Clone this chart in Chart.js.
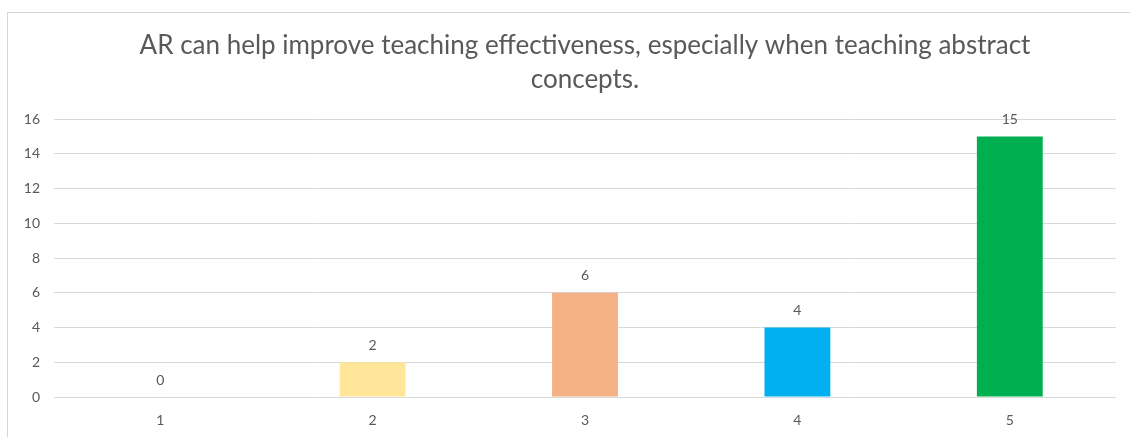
<!DOCTYPE html>
<html>
<head>
<meta charset="utf-8">
<script src="https://cdn.jsdelivr.net/npm/chart.js@4/dist/chart.umd.min.js"></script>
<style>
  body { margin: 0; background: #fff; }
  #wrap { position: relative; width: 1130px; height: 437px; overflow: hidden; }
  #frame { position: absolute; left: 7px; top: 12px; width: 1200px; height: 500px;
           border-left: 1px solid #d6d6d6; border-top: 1px solid #d6d6d6; }
  #myChart { position: absolute; left: 0; top: 0; }
</style>
</head>
<body>
<div id="wrap">
  <div id="frame"></div>
  <canvas id="myChart" width="1130" height="437"></canvas>
</div>
<script>
var categories = ["1", "2", "3", "4", "5"];
var counts = [0, 2, 6, 4, 15];
var barColors = ["#5B9BD5", "#FFE699", "#F4B183", "#00B0F0", "#00B050"];
var titleLines = ["AR can help improve teaching effectiveness, especially when teaching abstract", "concepts."];

var FONT = "Lato, 'Open Sans', sans-serif";
var GREY = "#595959";

// value labels over each bar
var valueLabels = {
  id: "valueLabels",
  afterDatasetsDraw: function(chart) {
    var ctx = chart.ctx;
    var meta = chart.getDatasetMeta(0);
    ctx.save();
    ctx.font = "14px " + FONT;
    ctx.fillStyle = GREY;
    ctx.textAlign = "center";
    ctx.textBaseline = "middle";
    meta.data.forEach(function(bar, i) {
      ctx.fillText(counts[i], bar.x, bar.y - 17);
    });
    ctx.restore();
  }
};

new Chart("myChart", {
  type: "bar",
  data: {
    labels: categories,
    datasets: [{
      data: counts,
      backgroundColor: barColors,
      categoryPercentage: 1,
      barPercentage: 0.31
    }]
  },
  options: {
    responsive: false,
    animation: false,
    layout: { padding: { left: 8, right: 14, top: 12, bottom: 10 } },
    plugins: {
      legend: { display: false },
      tooltip: { enabled: false },
      title: {
        display: true,
        fullSize: false,
        text: titleLines,
        color: GREY,
        font: { family: FONT, size: 26, weight: "normal", lineHeight: 1.33 },
        padding: { top: 16, bottom: 22 }
      }
    },
    scales: {
      x: {
        grid: { display: false, drawTicks: false },
        border: { display: false },
        ticks: { color: GREY, font: { family: FONT, size: 14 }, padding: 15 },
        afterFit: function(s) { s.height = 30; }
      },
      y: {
        min: 0,
        max: 16,
        grid: { color: "#d9d9d9", drawTicks: false },
        border: { display: false },
        ticks: { stepSize: 2, color: GREY, font: { family: FONT, size: 14 }, padding: 14 },
        afterFit: function(s) { s.width = 46; }
      }
    }
  },
  plugins: [valueLabels]
});
</script>
</body>
</html>
